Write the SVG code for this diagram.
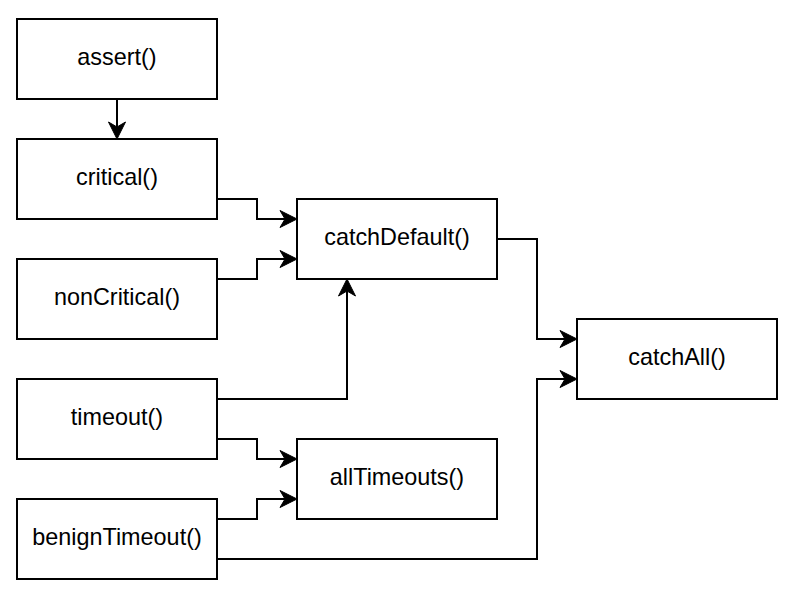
<svg xmlns="http://www.w3.org/2000/svg" width="798" height="604" viewBox="0 0 798 604">
<style>
.box{fill:#fff;stroke:#000;stroke-width:2}
.lbl{font-family:"Liberation Sans",Arial,sans-serif;font-size:23.4px;fill:#000;text-anchor:middle;dominant-baseline:central}
.c{fill:none;stroke:#000;stroke-width:2;marker-end:url(#arr)}
</style>
<defs>
<marker id="arr" markerUnits="userSpaceOnUse" refX="0" refY="0" markerWidth="20" markerHeight="20" orient="auto" overflow="visible">
<path d="M12,0 L-5,-8.5 L0,0 L-5,8.5 Z" fill="#000" stroke="#000" stroke-width="1"/>
</marker>
</defs>
<rect width="798" height="604" fill="#fff"/>
<g id="connectors">
<path class="c" d="M117,99 V127"/>
<path class="c" d="M217,199 H257 V219 H285"/>
<path class="c" d="M217,279 H257 V259 H285"/>
<path class="c" d="M217,399 H347 V291"/>
<path class="c" d="M217,439 H257 V459 H285"/>
<path class="c" d="M217,519 H257 V499 H285"/>
<path class="c" d="M217,559 H537 V379 H565"/>
<path class="c" d="M497,239 H537 V339 H565"/>
</g>
<g id="assert"><rect class="box" x="17" y="19" width="200" height="80"/><text class="lbl" x="117" y="57">assert()</text></g>
<g id="critical"><rect class="box" x="17" y="139" width="200" height="80"/><text class="lbl" x="117" y="177">critical()</text></g>
<g id="nonCritical"><rect class="box" x="17" y="259" width="200" height="80"/><text class="lbl" x="117" y="297">nonCritical()</text></g>
<g id="timeout"><rect class="box" x="17" y="379" width="200" height="80"/><text class="lbl" x="117" y="417">timeout()</text></g>
<g id="benignTimeout"><rect class="box" x="17" y="499" width="200" height="80"/><text class="lbl" x="117" y="537">benignTimeout()</text></g>
<g id="catchDefault"><rect class="box" x="297" y="199" width="200" height="80"/><text class="lbl" x="397" y="237">catchDefault()</text></g>
<g id="allTimeouts"><rect class="box" x="297" y="439" width="200" height="80"/><text class="lbl" x="397" y="477">allTimeouts()</text></g>
<g id="catchAll"><rect class="box" x="577" y="319" width="200" height="80"/><text class="lbl" x="677" y="357">catchAll()</text></g>
</svg>
